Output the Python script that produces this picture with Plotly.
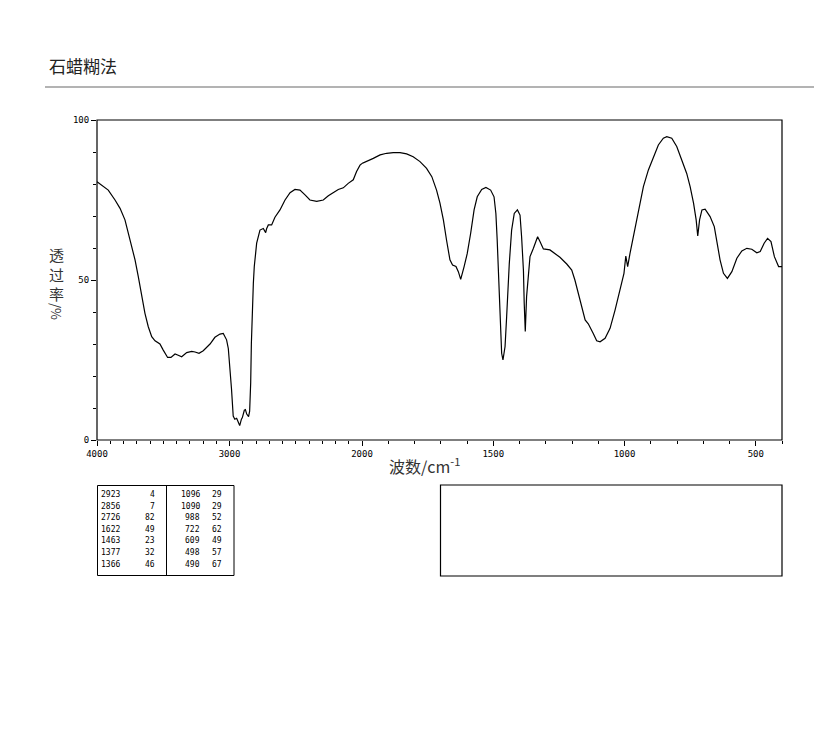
import plotly.graph_objects as go

W, H = 822, 737

# ---------------- data ----------------
wavenumber = [
    4000, 3965, 3915, 3864, 3826, 3789, 3764, 3738, 3713, 3688, 3663, 3638, 3613, 3587, 3562,
    3525, 3500, 3467, 3442, 3411, 3387, 3361, 3323, 3285, 3260, 3230, 3198, 3147, 3110, 3072,
    3047, 3022, 3009, 2995, 2985, 2972, 2960, 2946, 2935, 2923, 2910, 2903, 2888, 2880, 2870,
    2856, 2848, 2840, 2835, 2828, 2820, 2813, 2795, 2770, 2745, 2727, 2720, 2707, 2682, 2657,
    2619, 2581, 2543, 2506, 2468, 2430, 2393, 2342, 2292, 2254, 2217, 2179, 2141, 2104, 2066,
    2041, 2015, 2000, 1982, 1957, 1931, 1906, 1881, 1855, 1830, 1805, 1779, 1754, 1734, 1716,
    1703, 1690, 1678, 1665, 1655, 1642, 1633, 1624, 1611, 1599, 1586, 1573, 1561, 1544, 1528,
    1510, 1497, 1490, 1485, 1480, 1475, 1468, 1463, 1455, 1449, 1443, 1439, 1430, 1420, 1408,
    1398, 1392, 1385, 1382, 1378, 1373, 1370, 1366, 1360, 1347, 1338, 1331, 1322, 1309, 1284,
    1265, 1246, 1220, 1201, 1189, 1176, 1163, 1150, 1138, 1125, 1119, 1106, 1093, 1074, 1055,
    1036, 1017, 1002, 995, 988, 979, 966, 947, 928, 909, 890, 871, 852, 839, 820,
    801, 782, 763, 750, 737, 727, 721, 714, 705, 693, 674, 658, 648, 636, 623,
    608, 591, 572, 553, 534, 515, 496, 483, 468, 455, 442, 429, 413, 400,
]
transmittance = [
    80.7, 79.7, 78.1, 75.0, 72.4, 68.8, 64.6, 60.4, 56.3, 51.0, 44.8, 39.6, 35.4, 32.3, 31.0,
    30.0, 28.1, 25.8, 25.8, 26.9, 26.5, 26.0, 27.3, 27.7, 27.5, 27.1, 27.9, 30.0, 32.1, 33.1,
    33.3, 31.3, 28.6, 22.0, 16.0, 7.5, 6.5, 6.8, 5.5, 4.5, 6.5, 7.0, 9.3, 9.5, 8.1,
    7.3, 9.0, 18.0, 30.0, 41.7, 49.0, 54.2, 61.5, 65.6, 66.1, 64.8, 66.0, 67.2, 67.2, 69.6,
    71.9, 75.0, 77.3, 78.3, 78.1, 76.6, 75.0, 74.6, 75.0, 76.3, 77.3, 78.3, 78.8, 80.2, 81.3,
    83.9, 85.9, 86.4, 87.0, 88.0, 89.1, 89.6, 89.8, 89.8, 89.4, 88.5, 87.0, 84.9, 82.3, 78.1,
    74.0, 68.8, 62.5, 56.3, 54.7, 54.2, 52.6, 50.2, 54.2, 58.3, 64.6, 71.9, 76.0, 78.3, 78.9,
    78.1, 76.0, 70.8, 62.5, 50.0, 37.5, 27.1, 25.0, 29.2, 38.5, 50.0, 55.0, 65.6, 70.8, 71.9,
    70.3, 63.5, 53.0, 42.7, 33.9, 44.8, 47.9, 51.0, 57.3, 59.9, 62.0, 63.5, 62.0, 59.7, 59.4,
    58.3, 57.1, 55.0, 53.1, 50.0, 45.8, 41.1, 37.5, 36.3, 33.9, 33.3, 31.0, 30.7, 31.8, 34.9,
    40.6, 46.9, 52.1, 57.5, 54.2, 58.3, 63.5, 71.9, 79.2, 84.4, 88.5, 92.2, 94.3, 94.8, 94.3,
    91.7, 87.5, 83.3, 79.2, 74.0, 68.8, 63.8, 68.8, 71.9, 72.1, 69.8, 66.7, 61.5, 56.3, 52.1,
    50.5, 52.6, 56.8, 59.1, 59.9, 59.6, 58.5, 58.9, 61.5, 63.0, 62.0, 57.3, 54.2, 54.2,
]

# peak table
peak_wn = [2923, 2856, 2726, 1622, 1463, 1377, 1366, 1096, 1090, 988, 722, 609, 498, 490]
peak_t = [4, 7, 82, 49, 23, 32, 46, 29, 29, 52, 62, 49, 57, 67]

x_ticks_high = [4000, 3000, 2000]
x_ticks_low = [1500, 1000, 500]
y_ticks = [0, 50, 100]

title_text = "石蜡糊法"
x_title = "波数/cm<sup>-1</sup>"
y_title_cjk = "透<br>过<br>率"
y_title_unit = "/%"

# ---------------- helpers (page pixels -> paper fractions; page has an 8px body margin) ----------------
OFF = 8

def px(x):
    return (x - OFF) / W

def py(y):
    return 1 - (y - OFF) / H

PL, PR, PT, PB, PSPLIT = 97, 782, 120, 440, 362

hi = [(w, t) for w, t in zip(wavenumber, transmittance) if w >= 2000]
lo = [(w, t) for w, t in zip(wavenumber, transmittance) if w <= 2000]

line_style = dict(color="black", width=1.2)
fig = go.Figure()
fig.add_trace(go.Scatter(x=[p[0] for p in hi], y=[p[1] for p in hi], mode="lines",
                         line=line_style, xaxis="x", yaxis="y", showlegend=False))
fig.add_trace(go.Scatter(x=[p[0] for p in lo], y=[p[1] for p in lo], mode="lines",
                         line=line_style, xaxis="x2", yaxis="y", showlegend=False))

tick_font = dict(family="DejaVu Sans Mono", size=9, color="black")
minor_x = dict(dtick=100, tick0=0, ticks="outside", ticklen=3, tickwidth=1,
               tickcolor="black", showgrid=False)

fig.update_layout(
    width=W, height=H,
    margin=dict(l=0, r=0, t=0, b=0, pad=0, autoexpand=False),
    paper_bgcolor="white", plot_bgcolor="white",
    showlegend=False,
    xaxis=dict(domain=[px(PL), px(PSPLIT)], range=[4000, 2000], anchor="y", automargin=False,
               tickmode="array", tickvals=x_ticks_high, ticktext=[str(v) for v in x_ticks_high],
               ticks="outside", ticklen=5, tickwidth=1, tickcolor="black", minor=minor_x,
               showgrid=False, zeroline=False, showline=False, tickfont=tick_font),
    xaxis2=dict(domain=[px(PSPLIT), px(PR)], range=[2000, 400], anchor="y", automargin=False,
                tickmode="array", tickvals=x_ticks_low, ticktext=[str(v) for v in x_ticks_low],
                ticks="outside", ticklen=5, tickwidth=1, tickcolor="black", minor=minor_x,
                showgrid=False, zeroline=False, showline=False, tickfont=tick_font),
    yaxis=dict(domain=[py(PB), py(PT)], range=[0, 100], anchor="x", automargin=False,
               tickmode="array", tickvals=y_ticks, ticktext=[str(v) for v in y_ticks],
               ticks="outside", ticklen=5, tickwidth=1, tickcolor="black",
               minor=dict(dtick=10, tick0=0, ticks="outside", ticklen=3, tickwidth=1,
                          tickcolor="black", showgrid=False),
               showgrid=False, zeroline=False, showline=False, tickfont=tick_font),
)

shapes = [
    # plot frame
    dict(type="rect", xref="paper", yref="paper", x0=px(PL), x1=px(PR), y0=py(PB), y1=py(PT),
         line=dict(color="black", width=1.2), fillcolor="rgba(0,0,0,0)"),
    # header rule
    dict(type="line", xref="paper", yref="paper", x0=px(45), x1=1, y0=py(87), y1=py(87),
         line=dict(color="#9a9a9a", width=1.5)),
    # peak table box
    dict(type="rect", xref="paper", yref="paper", x0=px(97.5), x1=px(234), y0=py(575.5), y1=py(485.5),
         line=dict(color="black", width=1), fillcolor="rgba(0,0,0,0)"),
    dict(type="line", xref="paper", yref="paper", x0=px(166.5), x1=px(166.5), y0=py(575.5), y1=py(485.5),
         line=dict(color="black", width=1)),
    # empty info box
    dict(type="rect", xref="paper", yref="paper", x0=px(440.5), x1=px(782), y0=py(576), y1=py(485),
         line=dict(color="black", width=1.2), fillcolor="rgba(0,0,0,0)"),
]

cjk_font = dict(family="Noto Sans CJK SC", size=16, color="#333")
annotations = [
    dict(text=title_text, xref="paper", yref="paper", x=px(47), y=py(66), xanchor="left",
         yanchor="middle", showarrow=False,
         font=dict(family="Noto Sans CJK SC", size=17, color="#222")),
    dict(text=x_title, xref="paper", yref="paper", x=px(424), y=py(466), xanchor="center",
         yanchor="middle", showarrow=False, font=cjk_font),
    dict(text=y_title_cjk, xref="paper", yref="paper", x=px(56), y=py(274), xanchor="center",
         yanchor="middle", showarrow=False,
         font=dict(family="Noto Sans CJK SC", size=15, color="#333")),
    dict(text=y_title_unit, xref="paper", yref="paper", x=px(57), y=py(311), xanchor="center",
         yanchor="middle", showarrow=False, textangle=90,
         font=dict(family="Noto Sans CJK SC", size=13, color="#333")),
]

table_font = dict(family="DejaVu Sans Mono", size=8, color="black")
n_rows = 7
for i, (w, t) in enumerate(zip(peak_wn, peak_t)):
    col = i // n_rows
    row = i % n_rows
    yy = 494.5 + row * 11.6
    xw = 121.5 if col == 0 else 202
    xt = 156.5 if col == 0 else 224
    annotations.append(dict(text=str(w), xref="paper", yref="paper", x=px(xw), y=py(yy),
                            xanchor="right", yanchor="middle", showarrow=False, font=table_font))
    annotations.append(dict(text=str(t), xref="paper", yref="paper", x=px(xt), y=py(yy),
                            xanchor="right", yanchor="middle", showarrow=False, font=table_font))

fig.update_layout(shapes=shapes, annotations=annotations)
fig.write_html("out.html")
